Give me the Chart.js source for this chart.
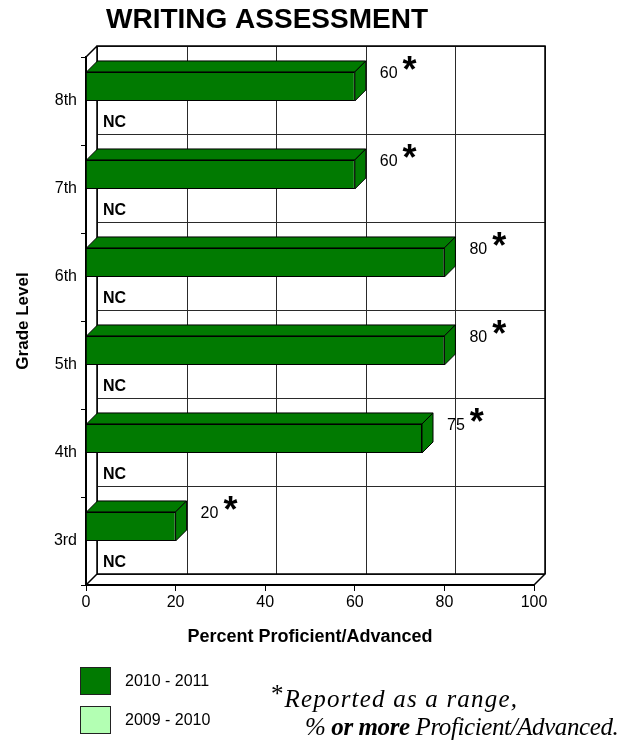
<!DOCTYPE html>
<html>
<head>
<meta charset="utf-8">
<script src="https://cdn.jsdelivr.net/npm/chart.js@4.4.1/dist/chart.umd.min.js"></script>
<style>
  html, body { margin: 0; padding: 0; background: #fff; }
  #wrap { position: relative; width: 630px; height: 742px; overflow: hidden; }
  #c { position: absolute; left: 0; top: 0; }
  .lg { position: absolute; left: 80px; height: 27px; font: 16px "Liberation Sans", Arial, sans-serif; color: #000; display: flex; align-items: center; }
  .sw { display: inline-block; width: 29px; height: 26px; border: 1px solid #222; margin-right: 14px; }
  .note { position: absolute; font-family: "Liberation Serif", "Times New Roman", serif; font-style: italic; color: #000; white-space: nowrap; font-size: 25px; line-height: 30px; }
</style>
</head>
<body>
<div id="wrap">
  <canvas id="c" width="630" height="742"></canvas>
  <div class="lg" style="top:667px"><span class="sw" style="background:#017a01"></span><span id="lg0"></span></div>
  <div class="lg" style="top:706px"><span class="sw" style="background:#b3ffb3"></span><span id="lg1"></span></div>
  <div class="note" style="left:271px; top:684px;"><span style="font-style:normal;font-size:25px;position:relative;top:-5px;margin-right:1px;">*</span><span style="letter-spacing:1.2px">Reported as a range,</span></div>
  <div class="note" style="left:305px; top:712px; letter-spacing:-0.4px;">% <b>or more</b> Proficient/Advanced.</div>
</div>
<script>
// ---- data ----
const grades = ['8th', '7th', '6th', '5th', '4th', '3rd'];
const scores2011 = [60, 60, 80, 80, 75, 20];
const scores2010 = [null, null, null, null, null, null]; // not comparable -> "NC"
const seriesNames = ['2010 - 2011', '2009 - 2010'];
const xTickValues = [0, 20, 40, 60, 80, 100];
const missingLabel = 'NC';
const rangeMark = '*';

document.getElementById('lg0').textContent = seriesNames[0];
document.getElementById('lg1').textContent = seriesNames[1];

const GREEN = '#017a01';
const LIGHT = '#b3ffb3';
const SANS = '"Liberation Sans", Arial, Helvetica, sans-serif';
const DEPTH = 11;

const threeD = {
  id: 'threeD',
  beforeDatasetsDraw(chart) {
    const { ctx, chartArea: a, scales: { x, y } } = chart;
    const d = DEPTH;
    ctx.save();
    // back wall grid
    ctx.strokeStyle = '#2a2a2a';
    ctx.lineWidth = 1;
    ctx.beginPath();
    xTickValues.forEach(v => {
      const px = Math.round(x.getPixelForValue(v) + d) + 0.5;
      ctx.moveTo(px, a.top - d);
      ctx.lineTo(px, a.bottom - d);
    });
    for (let i = 0; i <= grades.length; i++) {
      const py = Math.round(y.getPixelForValue(i - 0.5) - d) + 0.5;
      ctx.moveTo(a.left + d, py);
      ctx.lineTo(a.right + d, py);
    }
    ctx.stroke();
    // box outline
    ctx.strokeStyle = '#000';
    ctx.lineWidth = 1.5;
    ctx.beginPath();
    ctx.moveTo(a.left + d, a.bottom - d);
    ctx.lineTo(a.left + d, a.top - d);
    ctx.lineTo(a.right + d, a.top - d);
    ctx.lineTo(a.right + d, a.bottom - d);
    ctx.lineTo(a.left + d, a.bottom - d);
    ctx.moveTo(a.left, a.top); ctx.lineTo(a.left + d, a.top - d);
    ctx.moveTo(a.left, a.bottom); ctx.lineTo(a.left + d, a.bottom - d);
    ctx.moveTo(a.right, a.bottom); ctx.lineTo(a.right + d, a.bottom - d);
    ctx.stroke();
    ctx.restore();
  },
  afterDatasetsDraw(chart) {
    const { ctx } = chart;
    const d = DEPTH;
    ctx.save();
    const meta0 = chart.getDatasetMeta(0);
    meta0.data.forEach((bar, i) => {
      const v = scores2011[i];
      if (v == null) return;
      const p = bar.getProps(['x', 'y', 'base', 'height'], true);
      const top = p.y - p.height / 2, bot = p.y + p.height / 2;
      ctx.fillStyle = GREEN;
      ctx.strokeStyle = '#000';
      ctx.lineWidth = 1;
      ctx.lineJoin = 'round';
      // top face
      ctx.beginPath();
      ctx.moveTo(p.base, top);
      ctx.lineTo(p.x, top);
      ctx.lineTo(p.x + d, top - d);
      ctx.lineTo(p.base + d, top - d);
      ctx.closePath();
      ctx.fill(); ctx.stroke();
      // side face
      ctx.beginPath();
      ctx.moveTo(p.x, top);
      ctx.lineTo(p.x + d, top - d);
      ctx.lineTo(p.x + d, bot - d);
      ctx.lineTo(p.x, bot);
      ctx.closePath();
      ctx.fill(); ctx.stroke();
      // value label + range mark
      ctx.fillStyle = '#000';
      ctx.textBaseline = 'middle';
      ctx.textAlign = 'left';
      ctx.font = '16px ' + SANS;
      const tx = p.x + d + 14, ty = p.y - 13;
      ctx.fillText(String(v), tx, ty);
      const w = ctx.measureText(String(v)).width;
      ctx.font = 'bold 36px ' + SANS;
      ctx.fillText(rangeMark, tx + w + 5, ty - 1);
    });
    // NC labels for the missing series
    const meta1 = chart.getDatasetMeta(1);
    const yScale = chart.scales.y;
    const left = chart.chartArea.left + d;
    ctx.font = 'bold 16px ' + SANS;
    ctx.fillStyle = '#000';
    ctx.textBaseline = 'middle';
    ctx.textAlign = 'left';
    scores2010.forEach((v, i) => {
      if (v != null) return;
      const el = meta1.data[i];
      let cy = el && isFinite(el.y) ? el.y : yScale.getPixelForValue(i) + 14;
      ctx.fillText(missingLabel, left + 6, cy + 7);
    });
    ctx.restore();
  }
};

new Chart(document.getElementById('c'), {
  type: 'bar',
  data: {
    labels: grades,
    datasets: [
      { label: seriesNames[0], data: scores2011, backgroundColor: GREEN, borderColor: '#000', borderWidth: 1, categoryPercentage: 0.66, barPercentage: 1 },
      { label: seriesNames[1], data: scores2010, backgroundColor: LIGHT, borderColor: '#000', borderWidth: 1, categoryPercentage: 0.66, barPercentage: 1 }
    ]
  },
  options: {
    indexAxis: 'y',
    responsive: false,
    animation: false,
    devicePixelRatio: 1,
    layout: { padding: { left: 0, right: 96, top: 0, bottom: 0 } },
    plugins: {
      legend: { display: false },
      tooltip: { enabled: false },
      title: {
        display: true,
        text: 'WRITING ASSESSMENT',
        color: '#000',
        font: { family: SANS, size: 28, weight: 'bold' },
        padding: { top: 3, bottom: 20.4 }
      }
    },
    scales: {
      x: {
        min: 0, max: 100,
        afterBuildTicks(s) { s.ticks = xTickValues.map(v => ({ value: v })); },
        ticks: { color: '#000', font: { family: SANS, size: 16 }, padding: 2 },
        grid: { drawOnChartArea: false, drawTicks: true, tickLength: 6, color: '#000', lineWidth: 1 },
        border: { display: true, color: '#000', width: 2 },
        title: { display: true, text: 'Percent Proficient/Advanced', color: '#000', font: { family: SANS, size: 18, weight: 'bold' }, padding: { top: 4, bottom: 94 } },
        afterFit(s) { s.height = 157; }
      },
      y: {
        ticks: { color: '#000', font: { family: SANS, size: 16 }, padding: 4 },
        grid: { drawOnChartArea: false, drawTicks: true, tickLength: 5, color: '#000', lineWidth: 1, offset: true },
        border: { display: true, color: '#000', width: 2 },
        title: { display: true, text: 'Grade Level', color: '#000', font: { family: SANS, size: 17, weight: 'bold' }, padding: { top: 13, bottom: 4 } },
        afterFit(s) { s.width = 86; }
      }
    }
  },
  plugins: [threeD]
});
</script>
</body>
</html>
